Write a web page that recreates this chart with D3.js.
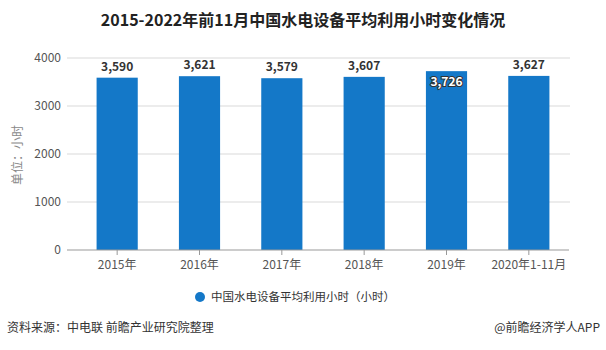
<!DOCTYPE html>
<html><head><meta charset="utf-8">
<script src="https://cdn.jsdelivr.net/npm/d3@7"></script>
<style>body{margin:0;background:#fff;}svg{display:block;font-family:"Microsoft YaHei","Noto Sans CJK SC",sans-serif;}</style>
</head><body>
<svg id="c" width="606" height="350"></svg>
<script>
const categories = ["2015年","2016年","2017年","2018年","2019年","2020年1-11月"];
const values = [3590,3621,3579,3607,3726,3627];
const yTicks = [0,1000,2000,3000,4000];

const svg = d3.select("#c");
const x = d3.scaleBand().domain(categories).range([76,570]).paddingInner(0.5).paddingOuter(0.25);
const y = d3.scaleLinear().domain([0,4000]).range([250,58]);

svg.append("text").attr("x",303).attr("y",26).attr("text-anchor","middle")
  .attr("font-size",16).attr("font-weight","bold").attr("fill","#222")
  .text("2015-2022年前11月中国水电设备平均利用小时变化情况");

// grid
svg.append("g").selectAll("line").data(yTicks.filter(d=>d>0)).join("line")
  .attr("x1",67).attr("x2",570).attr("y1",d=>y(d)).attr("y2",d=>y(d))
  .attr("stroke","#d9d9d9");

// y labels
svg.append("g").selectAll("text").data(yTicks).join("text")
  .attr("x",61).attr("y",d=>y(d)+4).attr("text-anchor","end")
  .attr("font-size",12).attr("fill","#555").text(d=>d);

svg.append("text").attr("transform","translate(22,155) rotate(-90)")
  .attr("text-anchor","middle").attr("font-size",12).attr("fill","#888").text("单位：小时");

// bars
svg.append("g").selectAll("rect").data(values).join("rect")
  .attr("x",(d,i)=>x(categories[i])).attr("width",x.bandwidth())
  .attr("y",d=>y(d)).attr("height",d=>y(0)-y(d)).attr("fill","#1478c8");

// x axis
const xa = svg.append("g").attr("transform","translate(0,250)")
  .call(d3.axisBottom(x).tickSize(5).tickPadding(5));
xa.select(".domain").attr("d","M67,0H569").attr("stroke","#999");
xa.selectAll(".tick line").attr("stroke","#999");
xa.selectAll(".tick text").attr("font-size",12).attr("fill","#555")
  .attr("font-family",'"Microsoft YaHei","Noto Sans CJK SC",sans-serif');

// value labels
const fmt = d3.format(",");
svg.append("g").selectAll("text").data(values).join("text")
  .attr("x",(d,i)=>x(categories[i])+x.bandwidth()/2)
  .attr("y",(d,i)=> i===4 ? y(d)+15 : y(d)-7)
  .attr("text-anchor","middle").attr("font-size",12).attr("font-weight","bold")
  .attr("fill",(d,i)=> i===4 ? "#fff" : "#333")
  .attr("stroke",(d,i)=> i===4 ? "#333" : "none").attr("stroke-width",2)
  .attr("paint-order","stroke")
  .text(d=>fmt(d));

// legend
svg.append("circle").attr("cx",200).attr("cy",297).attr("r",5).attr("fill","#1478c8");
svg.append("text").attr("x",211).attr("y",301).attr("font-size",11.5).attr("fill","#333")
  .text("中国水电设备平均利用小时（小时）");

// footer
svg.append("text").attr("x",7).attr("y",332).attr("font-size",12).attr("fill","#333")
  .text("资料来源：中电联 前瞻产业研究院整理");
svg.append("text").attr("x",600).attr("y",332).attr("text-anchor","end").attr("font-size",12).attr("fill","#333")
  .text("@前瞻经济学人APP");
</script>
</body></html>
